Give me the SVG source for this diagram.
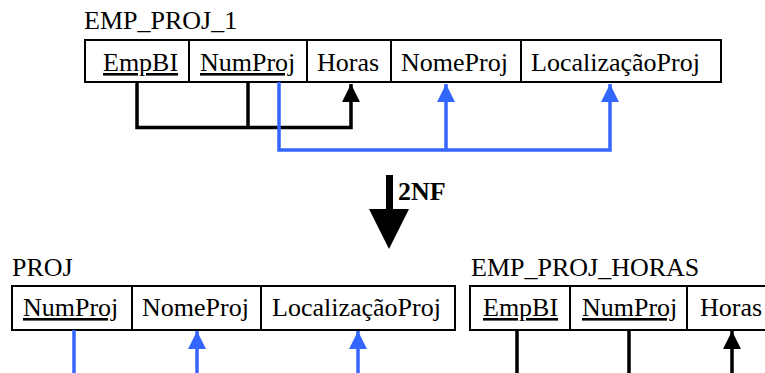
<svg xmlns="http://www.w3.org/2000/svg" width="765" height="373" viewBox="0 0 765 373" font-family="'Liberation Serif', 'DejaVu Serif', serif">
<style>
  text { font-family: 'Liberation Serif', 'Times New Roman', Times, serif; font-size: 26px; fill: #000; }
  .key { text-decoration: underline; }
  .bold { font-weight: bold; }
  .box { fill: #fff; stroke: #000; stroke-width: 2; }
  .div { stroke: #000; stroke-width: 2; }
  .blk { fill: none; stroke: #000; stroke-width: 3.5; stroke-linejoin: miter; }
  .blu { fill: none; stroke: #3366ff; stroke-width: 3.5; stroke-linejoin: miter; }
</style>
<defs>
  <marker id="ahB" markerUnits="userSpaceOnUse" markerWidth="20" markerHeight="20" viewBox="0 0 20 20" refX="19" refY="10" orient="auto">
    <path d="M1,1 L19,10 L1,19 Z" fill="#000"/>
  </marker>
  <marker id="ahU" markerUnits="userSpaceOnUse" markerWidth="20" markerHeight="20" viewBox="0 0 20 20" refX="19" refY="10" orient="auto">
    <path d="M1,1 L19,10 L1,19 Z" fill="#3366ff"/>
  </marker>
</defs>

<g id="emp_proj_1">
  <text x="84" y="29">EMP_PROJ_1</text>
  <rect class="box" x="85" y="40" width="636" height="42"/>
  <line class="div" x1="189" y1="40" x2="189" y2="82"/>
  <line class="div" x1="307" y1="40" x2="307" y2="82"/>
  <line class="div" x1="391" y1="40" x2="391" y2="82"/>
  <line class="div" x1="521" y1="40" x2="521" y2="82"/>
  <text class="key" x="103" y="71">EmpBI</text>
  <text class="key" x="200" y="71">NumProj</text>
  <text x="317" y="71">Horas</text>
  <text x="401" y="71">NomeProj</text>
  <text x="531" y="71">LocalizaçãoProj</text>
</g>

<g id="proj">
  <text x="12" y="276">PROJ</text>
  <rect class="box" x="12" y="286" width="443" height="44"/>
  <line class="div" x1="132" y1="286" x2="132" y2="330"/>
  <line class="div" x1="261" y1="286" x2="261" y2="330"/>
  <text class="key" x="23" y="316">NumProj</text>
  <text x="142" y="316">NomeProj</text>
  <text x="272" y="316">LocalizaçãoProj</text>
</g>

<g id="emp_proj_horas">
  <text x="471" y="276">EMP_PROJ_HORAS</text>
  <rect class="box" x="470" y="286" width="320" height="44"/>
  <line class="div" x1="570" y1="286" x2="570" y2="330"/>
  <line class="div" x1="687" y1="286" x2="687" y2="330"/>
  <text class="key" x="483" y="316">EmpBI</text>
  <text class="key" x="582" y="316">NumProj</text>
  <text x="700" y="316">Horas</text>
</g>

<g id="nf2">
  <rect x="386" y="175" width="7" height="36" fill="#000"/>
  <polygon points="369,209 409,209 389,249" fill="#000"/>
  <text class="bold" x="398" y="200">2NF</text>
</g>

<g id="connectors">
  <polyline class="blk" points="137,82 137,127.5 351,127.5 351,84" marker-end="url(#ahB)"/>
  <line class="blk" x1="248" y1="82" x2="248" y2="127.5"/>
  <polyline class="blu" points="279,82 279,150 610,150 610,84" marker-end="url(#ahU)"/>
  <line class="blu" x1="446" y1="150" x2="446" y2="84" marker-end="url(#ahU)"/>

  <line class="blu" x1="74" y1="330" x2="74" y2="373"/>
  <line class="blu" x1="197" y1="373" x2="197" y2="331" marker-end="url(#ahU)"/>
  <line class="blu" x1="358" y1="373" x2="358" y2="331" marker-end="url(#ahU)"/>

  <line class="blk" x1="517" y1="330" x2="517" y2="373"/>
  <line class="blk" x1="629" y1="330" x2="629" y2="373"/>
  <line class="blk" x1="732" y1="373" x2="732" y2="331" marker-end="url(#ahB)"/>
</g>
</svg>
